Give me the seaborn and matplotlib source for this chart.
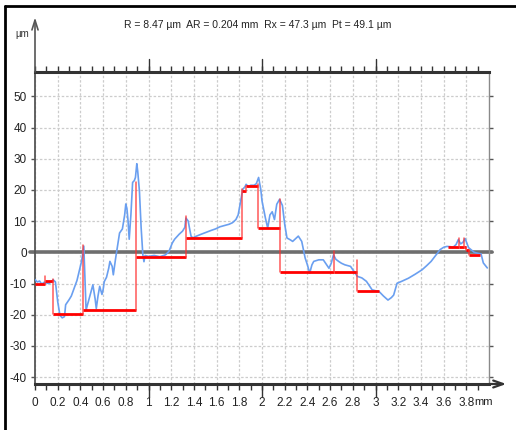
import numpy as np
import pandas as pd
import matplotlib
matplotlib.use("Agg")
import matplotlib.pyplot as plt
from matplotlib.lines import Line2D
import seaborn as sns

# roughness profile (mm, µm)
profile_x = [0.00, 0.02, 0.04, 0.06, 0.08, 0.10, 0.12, 0.14, 0.16, 0.18,
             0.20, 0.22, 0.24, 0.26, 0.27, 0.30, 0.32, 0.35, 0.37, 0.39,
             0.41, 0.43, 0.44, 0.45, 0.47, 0.49, 0.51, 0.53, 0.54, 0.555,
             0.57, 0.59, 0.60, 0.61, 0.63, 0.65, 0.66, 0.68, 0.69, 0.71,
             0.72, 0.745, 0.77, 0.79, 0.80, 0.81, 0.82, 0.83, 0.845, 0.86,
             0.875, 0.885, 0.897, 0.905, 0.92, 0.935, 0.95, 0.96, 0.97, 1.00,
             1.05, 1.10, 1.15, 1.18, 1.21, 1.23, 1.27, 1.30, 1.32, 1.33,
             1.35, 1.365, 1.375, 1.39, 1.41, 1.45, 1.50, 1.55, 1.59, 1.63,
             1.67, 1.71, 1.74, 1.77, 1.79, 1.81, 1.83, 1.85, 1.86, 1.88,
             1.90, 1.93, 1.95, 1.97, 1.99, 2.00, 2.03, 2.05, 2.07, 2.09,
             2.11, 2.13, 2.155, 2.18, 2.20, 2.22, 2.25, 2.27, 2.30, 2.32,
             2.35, 2.38, 2.40, 2.42, 2.44, 2.456, 2.50, 2.54, 2.56, 2.59,
             2.61, 2.63, 2.65, 2.675, 2.70, 2.73, 2.78, 2.81, 2.84, 2.88,
             2.92, 2.97, 3.00, 3.03, 3.07, 3.11, 3.14, 3.16, 3.19, 3.23,
             3.29, 3.35, 3.41, 3.45, 3.49, 3.53, 3.57, 3.60, 3.63, 3.66,
             3.68, 3.71, 3.73, 3.75, 3.77, 3.79, 3.82, 3.85, 3.87, 3.90,
             3.93, 3.95, 3.985]
profile_y = [-8.7, -9.5, -9.2, -10.2, -9.6, -9.8, -10.0, -9.6, -8.8, -9.5,
             -15.8, -20.2, -21.0, -20.6, -16.8, -15.2, -14.0, -11.0, -9.0, -6.0,
             -2.9, 2.0, -8.0, -18.5, -15.8, -13.0, -10.4, -15.0, -18.0, -14.0,
             -10.9, -13.5, -12.0, -9.4, -8.0, -5.0, -2.9, -4.5, -7.2, -2.0,
             0.3, 6.2, 7.5, 12.0, 15.5, 14.0, 10.0, 4.2, 12.0, 22.4,
             23.0, 24.0, 28.4, 26.0, 19.7, 8.0, -0.7, -3.0, -1.0, -1.3,
             -1.0, -1.4, -0.8, 0.3, 3.0, 4.2, 5.8, 6.8, 8.0, 11.0,
             10.0, 7.0, 5.2, 4.6, 5.0, 5.6, 6.3, 7.0, 7.5, 8.2,
             8.6, 9.0, 9.5, 10.5, 12.0, 16.0, 20.2, 21.0, 21.8, 21.0,
             21.5, 21.5, 22.0, 24.0, 20.0, 16.5, 11.0, 7.8, 12.0, 13.0,
             10.5, 15.4, 17.0, 15.0, 9.0, 4.6, 4.0, 3.5, 4.5, 5.2,
             3.5, -1.8, -4.0, -6.7, -4.0, -2.9, -2.4, -2.4, -3.5, -5.1,
             -3.5, -0.8, -2.2, -2.9, -3.5, -4.0, -4.5, -6.1, -7.7, -8.2,
             -9.3, -12.0, -12.3, -12.5, -14.0, -15.3, -14.5, -13.7, -9.9, -9.3,
             -8.3, -7.0, -5.6, -4.3, -2.9, -1.0, 0.9, 1.6, 1.9, 1.8,
             1.5, 2.5, 4.1, 2.7, 3.2, 4.4, 1.5, 0.6, 0.0, -0.3,
             -0.5, -3.4, -5.0]

# roughness motifs (red steps): edges, levels and vertical peaks at inner edges
motif_a_edges = [0.0, 0.088, 0.155, 0.424, 0.886, 1.33, 1.827, 1.86, 1.967,
                 2.155, 2.63, 2.836, 3.03]
motif_a_levels = [-10.3, -9.3, -19.8, -18.4, -1.5, 4.5, 19.7, 21.2, 7.7,
                  -6.3, -6.3, -12.3]
motif_a_peaks = [-7.5, -8.7, 2.5, 22.5, 11.6, 20.2, 21.2, 22.0, 17.0, 0.5, -2.4]

motif_b_edges = [3.64, 3.74, 3.78, 3.795, 3.82, 3.92]
motif_b_levels = [1.6, 1.6, 1.6, 0.6, -0.8]
motif_b_peaks = [4.5, 4.5, 1.6, 0.6]

title_text = "R = 8.47 µm  AR = 0.204 mm  Rx = 47.3 µm  Pt = 49.1 µm"
x_ticks = [0, 0.2, 0.4, 0.6, 0.8, 1, 1.2, 1.4, 1.6, 1.8, 2, 2.2, 2.4, 2.6,
           2.8, 3, 3.2, 3.4, 3.6, 3.8]
x_tick_labels = ["0", "0.2", "0.4", "0.6", "0.8", "1", "1.2", "1.4", "1.6",
                 "1.8", "2", "2.2", "2.4", "2.6", "2.8", "3", "3.2", "3.4",
                 "3.6", "3.8"]
y_ticks = [-40, -30, -20, -10, 0, 10, 20, 30, 40, 50]
y_tick_labels = ["-40", "-30", "-20", "-10", "0", "10", "20", "30", "40", "50"]

sns.set_style("white")
narrow = ["Liberation Sans", "DejaVu Sans"]
plt.rcParams["font.family"] = narrow

fig = plt.figure(figsize=(5.16, 4.30), dpi=100)
ax = fig.add_axes([35 / 516, 1 - 384 / 430, (489 - 35) / 516, (384 - 72) / 430])
ax.set_xlim(0, 4.0)
ax.set_ylim(-42.2, 57.8)

# grid
ax.set_xticks(x_ticks)
ax.set_xticklabels(x_tick_labels)
ax.set_xticks(np.arange(0.1, 4.0, 0.2), minor=True)
ax.set_yticks(y_ticks)
ax.set_yticklabels(y_tick_labels)
ax.grid(True, which="major", color="#cccccc", linestyle=(0, (2, 1.5)), linewidth=0.9)

# zero line
ax.plot([-0.04, 4.03], [0, 0], color="#6e6e6e", lw=2.6, clip_on=False, zorder=2)

# profile
df = pd.DataFrame({"x": profile_x, "y": profile_y})
sns.lineplot(data=df, x="x", y="y", ax=ax, color="#6a9ff0", lw=1.2,
             estimator=None, sort=False, zorder=3)


def draw_motifs(edges, levels, peaks):
    for i, lev in enumerate(levels):
        ax.plot([edges[i], edges[i + 1]], [lev, lev], color="#ff0000",
                lw=2.0, solid_capstyle="butt", zorder=4)
    for i, pk in enumerate(peaks):
        lo = min(levels[i], levels[i + 1])
        hi = max(levels[i], levels[i + 1], pk)
        ax.plot([edges[i + 1], edges[i + 1]], [lo, hi], color="#ff3030",
                lw=1.1, alpha=0.8, zorder=4)


draw_motifs(motif_a_edges, motif_a_levels, motif_a_peaks)
draw_motifs(motif_b_edges, motif_b_levels, motif_b_peaks)

ax.set_xlabel("")
ax.set_ylabel("")

# spines
ax.spines["left"].set_color("#555555")
ax.spines["left"].set_linewidth(1.3)
ax.spines["bottom"].set_color("#333333")
ax.spines["bottom"].set_linewidth(2.2)
ax.spines["top"].set_color("#333333")
ax.spines["top"].set_linewidth(2.2)
ax.spines["right"].set_color("#8a8a8a")
ax.spines["right"].set_linewidth(1.0)

ax.tick_params(axis="x", which="both", top=True, bottom=True, direction="out",
               length=4, width=1, color="#333333", labelsize=8.5, pad=5,
               labelcolor="#222222")
ax.tick_params(axis="y", which="major", left=True, right=True, direction="out",
               length=3, width=1, color="#555555", labelsize=8.5, pad=3,
               labelcolor="#222222")

# long ticks at whole millimetres
for xm in [1, 2, 3]:
    ax.plot([xm, xm], [-42.2, -46.3], color="#333333", lw=1, clip_on=False)
    ax.plot([xm, xm], [57.8, 61.9], color="#333333", lw=1, clip_on=False)

# axis arrows
ax.annotate("", xy=(0, 1.175), xytext=(0, 1.0), xycoords="axes fraction",
            arrowprops=dict(arrowstyle="->,head_length=0.7,head_width=0.22",
                            color="#555555", lw=1.2, shrinkA=0, shrinkB=0))
ax.annotate("", xy=(1.038, 0), xytext=(1.0, 0), xycoords="axes fraction",
            arrowprops=dict(arrowstyle="->,head_length=0.7,head_width=0.25",
                            color="#333333", lw=1.6, shrinkA=0, shrinkB=0))

fig.text(0.50, 0.942, title_text, ha="center", va="center", fontsize=7.5,
         color="#222222", family=narrow)
fig.text(0.043, 0.921, "µm", ha="center", va="center", fontsize=7,
         color="#333333", family=narrow)
fig.text(0.937, 0.064, "mm", ha="center", va="center", fontsize=8,
         color="#222222", family=narrow)

# outer frame
fig.add_artist(Line2D([5 / 516, 5 / 516], [0, 1 - 6 / 430], color="black", lw=2))
fig.add_artist(Line2D([5 / 516, 1], [1 - 6 / 430, 1 - 6 / 430], color="black", lw=2))

fig.savefig("out.png", dpi=100)
